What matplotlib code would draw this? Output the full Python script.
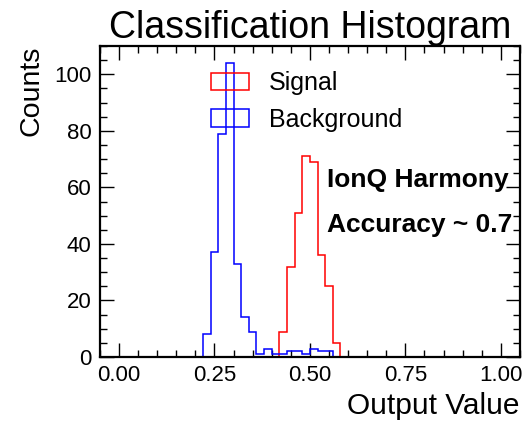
import numpy as np
import matplotlib
matplotlib.use("Agg")
import matplotlib.pyplot as plt
from matplotlib.ticker import MultipleLocator

plt.rcParams['font.family'] = ['Liberation Sans', 'DejaVu Sans']

# Histogram contents (bin width 0.02)
bin_width = 0.02
signal_first_bin = 0.42
signal_counts = [9, 32, 51, 71, 69, 36, 25, 5]
background_first_bin = 0.22
background_counts = [8, 37, 79, 104, 33, 14, 9, 1, 3, 1, 1, 2, 2, 1, 3, 2, 2]


def edges_for(first, counts):
    return first + bin_width * np.arange(len(counts) + 1)


fig = plt.figure(figsize=(5.26, 4.21), dpi=100)
ax = fig.add_axes([0.190, 0.152, 0.7985, 0.7387])

for label, first, counts, color in [("Signal", signal_first_bin, signal_counts, "red"),
                                    ("Background", background_first_bin, background_counts, "blue")]:
    edges = edges_for(first, counts)
    centers = (edges[:-1] + edges[1:]) / 2
    ax.hist(centers, bins=edges, weights=counts, histtype='step',
            color=color, linewidth=1.1, label=label)

ax.set_xlim(-0.05, 1.05)
ax.set_ylim(0, 110)
ax.xaxis.set_major_locator(MultipleLocator(0.25))
ax.xaxis.set_minor_locator(MultipleLocator(0.05))
ax.yaxis.set_major_locator(MultipleLocator(20))
ax.yaxis.set_minor_locator(MultipleLocator(5))
ax.tick_params(which='both', direction='in', top=True, right=True, labelsize=16, pad=6)
ax.tick_params(which='major', length=10, width=1)
ax.tick_params(which='minor', length=5, width=1)
for spine in ax.spines.values():
    spine.set_linewidth(1.6)

ax.set_title('Classification Histogram', fontsize=27)
ax.set_xlabel('Output Value', fontsize=21.5, loc='right')
ax.set_ylabel('Counts', fontsize=20.5, loc='top', labelpad=7)

ax.legend(loc='upper left', bbox_to_anchor=(0.212, 0.991), frameon=False,
          fontsize=18, handlelength=1.5)

ax.text(0.54, 0.5457, 'IonQ Harmony', transform=ax.transAxes,
        fontsize=19, fontweight='bold', va='baseline')
ax.text(0.54, 0.403, 'Accuracy ~ 0.7', transform=ax.transAxes,
        fontsize=19, fontweight='bold', va='baseline')

fig.savefig('out.png', dpi=100)
